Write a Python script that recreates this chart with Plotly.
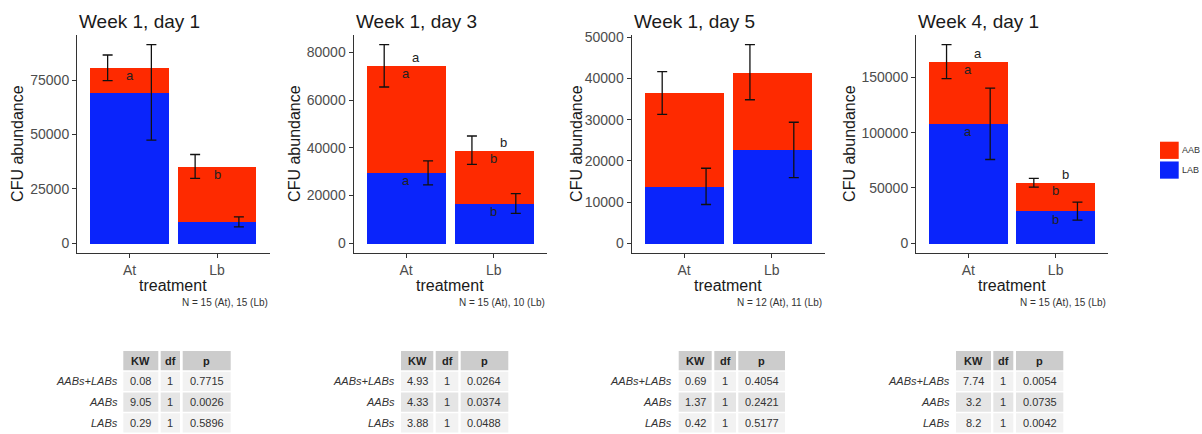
import plotly.graph_objects as go

W, H = 1202, 434

# ---- data -------------------------------------------------------------
panel_titles = ["Week 1, day 1", "Week 1, day 3", "Week 1, day 5", "Week 4, day 1"]
treatments = ["At", "Lb"]

# mean CFU per treatment (stacked: LAB at the bottom, AAB on top)
lab_mean = [[69400, 9800], [29500, 16630], [13800, 22650], [108000, 29000]]
aab_mean = [[11300, 25500], [44950, 22400], [22700, 18900], [56300, 25700]]

# standard errors: total (AAB+LAB) and LAB
total_se = [[5900, 5500], [8900, 5950], [5200, 6700], [15400, 4000]]
lab_se = [[22000, 2270], [5000, 4160], [4400, 6730], [32300, 8200]]

# y-axis tick step per panel
tick_step = [25000, 20000, 10000, 50000]

# significance letters (None = not shown)
letters_total = [None, ["a", "b"], None, ["a", "b"]]
letters_aab = [["a", "b"], ["a", "b"], None, ["a", "b"]]
letters_lab = [None, ["a", "b"], None, ["a", "b"]]

n_labels = ["N = 15 (At), 15 (Lb)", "N = 15 (At), 10 (Lb)",
            "N = 12 (At), 11 (Lb)", "N = 15 (At), 15 (Lb)"]

# Kruskal-Wallis tables
table_rows = ["AABs+LABs", "AABs", "LABs"]
table_cols = ["KW", "df", "p"]
kw_values = [["0.08", "9.05", "0.29"], ["4.93", "4.33", "3.88"],
             ["0.69", "1.37", "0.42"], ["7.74", "3.2", "8.2"]]
df_values = [["1", "1", "1"]] * 4
p_values = [["0.7715", "0.0026", "0.5896"], ["0.0264", "0.0374", "0.0488"],
            ["0.4054", "0.2421", "0.5177"], ["0.0054", "0.0735", "0.0042"]]

legend_labels = ["AAB", "LAB"]

# ---- styling / layout --------------------------------------------------
RED = "#FE2A00"
BLUE = "#0A24FB"
FONT = "Liberation Sans, Arial, Helvetica, sans-serif"
AXIS_COL = "#333333"
TICK_COL = "#4d4d4d"

# plot-area horizontal extents (px) and y-title centres
panel_x = [(77, 269.5), (353.5, 546.5), (631.5, 824.5), (916, 1108)]
ytitle_x = [18, 295, 577, 850]
plot_top, plot_bottom = 30, 251

# table geometry (px): label right edge, then column extents
table_geom = [
    (120, [(123.3, 158.3), (160.7, 180), (182.7, 230.7)]),
    (397.3, [(401, 433.3), (435.7, 458.3), (460.7, 508.3)]),
    (674, [(678.7, 711.7), (714.3, 736), (738.3, 785)]),
    (951.7, [(956, 991), (993.3, 1013.3), (1016, 1063.3)]),
]
row_tops = [350, 371, 392, 413]
row_h = 19.5
header_fill = "#cccccc"
row_fills = ["#f2f2f2", "#e5e5e5", "#f2f2f2"]


def px(x):
    return x / W


def py(y):
    return 1 - y / H


fig = go.Figure()
annotations = []
shapes = []
xpos = [0, 1]
dodge = 0.25

for i in range(4):
    sfx = "" if i == 0 else str(i + 1)
    xa, ya = "x" + sfx, "y" + sfx
    totals = [lab_mean[i][k] + aab_mean[i][k] for k in range(2)]

    fig.add_trace(go.Bar(x=xpos, y=lab_mean[i], width=0.9, marker=dict(color=BLUE, line=dict(width=0)),
                         name="LAB", xaxis=xa, yaxis=ya, showlegend=False))
    fig.add_trace(go.Bar(x=xpos, y=aab_mean[i], width=0.9, marker=dict(color=RED, line=dict(width=0)),
                         name="AAB", xaxis=xa, yaxis=ya, showlegend=False))
    # error bars: total on the left, LAB on the right
    fig.add_trace(go.Scatter(x=[v - dodge for v in xpos], y=totals, mode="markers",
                             marker=dict(size=1, color="rgba(0,0,0,0)"),
                             error_y=dict(type="data", array=total_se[i], color="#111111",
                                          thickness=1.3, width=5),
                             xaxis=xa, yaxis=ya, showlegend=False, hoverinfo="skip"))
    fig.add_trace(go.Scatter(x=[v + dodge for v in xpos], y=lab_mean[i], mode="markers",
                             marker=dict(size=1, color="rgba(0,0,0,0)"),
                             error_y=dict(type="data", array=lab_se[i], color="#111111",
                                          thickness=1.3, width=5),
                             xaxis=xa, yaxis=ya, showlegend=False, hoverinfo="skip"))

    top = max(max(totals[k] + total_se[i][k], lab_mean[i][k] + lab_se[i][k]) for k in range(2))
    x0, x1 = panel_x[i]
    axis_common = dict(showline=True, linecolor=AXIS_COL, linewidth=1, ticks="outside",
                       ticklen=4, tickcolor=AXIS_COL, tickwidth=1, showgrid=False,
                       zeroline=False, tickfont=dict(family=FONT, size=14, color=TICK_COL))
    fig.layout["xaxis" + sfx] = dict(domain=[px(x0), px(x1)], range=[-0.6, 1.6], anchor=ya,
                                     tickvals=xpos, ticktext=treatments, **axis_common)
    fig.layout["yaxis" + sfx] = dict(domain=[py(plot_bottom), py(plot_top)],
                                     range=[-0.05 * top, 1.05 * top], anchor=xa,
                                     dtick=tick_step[i], tick0=0, tickformat="d", **axis_common)

    # significance letters
    for k in range(2):
        if letters_aab[i]:
            annotations.append(dict(x=xpos[k], y=totals[k], xref=xa, yref=ya, text=letters_aab[i][k],
                                    xanchor="center", showarrow=False, yshift=-8,
                                    font=dict(family=FONT, size=13, color="#222")))
        if letters_lab[i]:
            annotations.append(dict(x=xpos[k], y=lab_mean[i][k], xref=xa, yref=ya, text=letters_lab[i][k],
                                    xanchor="center", showarrow=False, yshift=-8,
                                    font=dict(family=FONT, size=13, color="#222")))
        if letters_total[i]:
            annotations.append(dict(x=xpos[k] + 0.11, y=totals[k], xref=xa, yref=ya, text=letters_total[i][k],
                                    xanchor="center", showarrow=False, yshift=8,
                                    font=dict(family=FONT, size=13, color="#222")))

    # titles and axis labels
    annotations.append(dict(x=px(x0), y=py(17), xref="paper", yref="paper", text=panel_titles[i],
                            xanchor="left", yanchor="middle", showarrow=False,
                            font=dict(family=FONT, size=19, color="#1a1a1a")))
    annotations.append(dict(x=px(ytitle_x[i]), y=py((plot_top + plot_bottom) / 2), xref="paper", yref="paper",
                            text="CFU abundance", textangle=-90, xanchor="center", yanchor="middle",
                            showarrow=False, font=dict(family=FONT, size=16, color="#1a1a1a")))
    annotations.append(dict(x=px((x0 + x1) / 2), y=py(283.5), xref="paper", yref="paper",
                            text="treatment", xanchor="center", yanchor="middle", showarrow=False,
                            font=dict(family=FONT, size=16, color="#1a1a1a")))
    annotations.append(dict(x=px(x1), y=py(300.5), xref="paper", yref="paper", text=n_labels[i],
                            xanchor="right", yanchor="middle", showarrow=False,
                            font=dict(family=FONT, size=10, color="#333333")))

    # statistics table
    label_right, cols = table_geom[i]
    cell_vals = [kw_values[i], df_values[i], p_values[i]]
    for c, (cx0, cx1) in enumerate(cols):
        shapes.append(dict(type="rect", xref="paper", yref="paper", x0=px(cx0), x1=px(cx1),
                           y0=py(row_tops[0] + row_h), y1=py(row_tops[0]),
                           fillcolor=header_fill, line=dict(width=0), layer="below"))
        annotations.append(dict(x=px((cx0 + cx1) / 2), y=py(row_tops[0] + row_h / 2), xref="paper", yref="paper",
                                text="<b>" + table_cols[c] + "</b>", xanchor="center", yanchor="middle",
                                showarrow=False, font=dict(family=FONT, size=11, color="#222222")))
        for r in range(3):
            t = row_tops[r + 1]
            shapes.append(dict(type="rect", xref="paper", yref="paper", x0=px(cx0), x1=px(cx1),
                               y0=py(t + row_h), y1=py(t), fillcolor=row_fills[r],
                               line=dict(width=0), layer="below"))
            annotations.append(dict(x=px((cx0 + cx1) / 2), y=py(t + row_h / 2), xref="paper", yref="paper",
                                    text=cell_vals[c][r], xanchor="center", yanchor="middle",
                                    showarrow=False, font=dict(family=FONT, size=11, color="#333333")))
    for r in range(3):
        t = row_tops[r + 1]
        annotations.append(dict(x=px(label_right), y=py(t + row_h / 2), xref="paper", yref="paper",
                                text="<i>" + table_rows[r] + "</i>", xanchor="right", yanchor="middle",
                                showarrow=False, font=dict(family=FONT, size=11, color="#333333")))

# legend keys
legend_cols = [RED, BLUE]
legend_tops = [138.3, 158.3]
for lab, col, t in zip(legend_labels, legend_cols, legend_tops):
    shapes.append(dict(type="rect", xref="paper", yref="paper", x0=px(1160), x1=px(1178.7),
                       y0=py(t + 17.4), y1=py(t), fillcolor=col, line=dict(width=0)))
    annotations.append(dict(x=px(1179.5), y=py(t + 8.7), xref="paper", yref="paper", text=lab,
                            xanchor="left", yanchor="middle", showarrow=False,
                            font=dict(family=FONT, size=9, color="#333333")))

fig.update_layout(width=W, height=H, margin=dict(l=0, r=0, t=0, b=0),
                  paper_bgcolor="white", plot_bgcolor="white", barmode="stack",
                  bargap=0, showlegend=False, annotations=annotations, shapes=shapes,
                  font=dict(family=FONT))

fig.write_html("out.html")
